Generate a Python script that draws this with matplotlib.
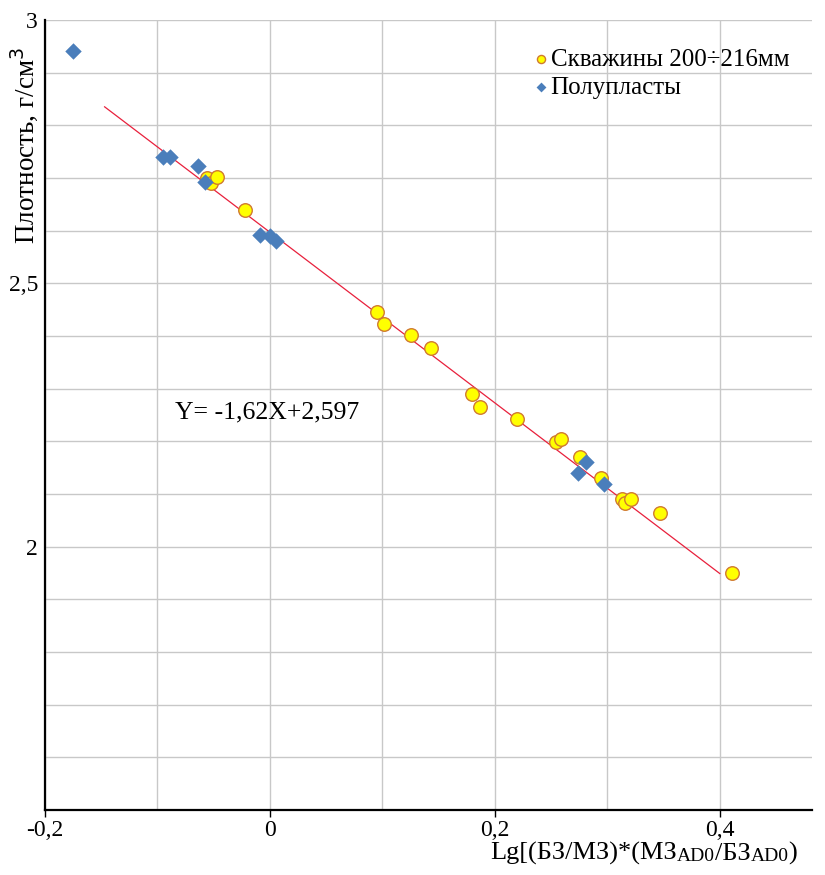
import numpy as np
import matplotlib.pyplot as plt

plt.rcParams['font.family'] = ['Liberation Serif', 'DejaVu Serif']

# скважины 200-216 мм
wells_x = [-0.056, -0.052, -0.047, -0.022, 0.095, 0.101, 0.125, 0.143, 0.180, 0.187,
           0.220, 0.254, 0.259, 0.276, 0.294, 0.313, 0.316, 0.321, 0.347, 0.411]
wells_y = [2.700, 2.691, 2.702, 2.639, 2.446, 2.423, 2.402, 2.377, 2.290, 2.265,
           2.242, 2.199, 2.204, 2.170, 2.130, 2.091, 2.083, 2.091, 2.064, 1.950]

# полупласты
layers_x = [-0.175, -0.095, -0.089, -0.064, -0.058, -0.009, 0.000, 0.005, 0.274, 0.281, 0.297]
layers_y = [2.941, 2.740, 2.740, 2.723, 2.692, 2.592, 2.590, 2.580, 2.140, 2.161, 2.119]

# линия регрессии Y = -1.62X + 2.597
k, b = -1.62, 2.597
fit_x = [-0.147, 0.400]

fig = plt.figure(figsize=(8.25, 8.75), dpi=100)
ax = fig.add_axes([45/825, 65/875, 767/825, 790/875])

ax.set_xlim(-0.2, 0.482)
ax.set_ylim(1.5, 3.0)
ax.set_xticks([-0.2, 0.0, 0.2, 0.4])
ax.set_xticks(np.arange(-0.1, 0.45, 0.2), minor=True)
ax.set_yticks([2.0, 2.5, 3.0])
ax.set_yticks(np.arange(1.6, 3.0, 0.1), minor=True)
ax.set_xticklabels(['-0,2', '0', '0,2', '0,4'], fontsize=17)
ax.set_yticklabels(['2', '2,5', '3'], fontsize=17)
ax.grid(True, which='both', color='#c8c8c8', linewidth=1.0)
ax.set_axisbelow(True)
ax.tick_params(which='both', length=0, pad=5)
ax.tick_params(axis='x', which='major', length=5, width=1, color='black', pad=2)

for s in ['top', 'right']:
    ax.spines[s].set_visible(False)
for s in ['left', 'bottom']:
    ax.spines[s].set_linewidth(1.6)

xx = np.array(fit_x)
ax.plot(xx, k * xx + b, color='#e8203c', linewidth=0.9, zorder=2)

ax.scatter(wells_x, wells_y, s=95, marker='o', facecolor='#ffff00',
           edgecolor='#d07a30', linewidth=1.0, zorder=3, label='Скважины 200÷216мм')
ax.scatter(layers_x, layers_y, s=70, marker='D', color='#4a7ebb',
           linewidth=0, zorder=4, label='Полупласты')

leg = ax.legend(loc='upper left', bbox_to_anchor=(0.62, 0.977), frameon=False,
                fontsize=18, handletextpad=0.0, labelspacing=0.22,
                borderaxespad=0, handlelength=0.8, markerscale=0.6)

ax.text(-0.084, 2.255, 'Y= -1,62X+2,597', fontsize=18.5, va='center', ha='left')

fig.text(8/825, (875 - 145) / 875, 'Плотность, г/см$^3$', rotation=90,
         fontsize=19.5, ha='left', va='center')

# подпись оси X: части "AD0" меньшим шрифтом
parts = [('Lg[(БЗ/МЗ)*(МЗ', 19), ('AD0', 14), ('/БЗ', 19), ('AD0', 14), (')', 19)]
prev = fig.text(490/825, 15/875, parts[0][0], fontsize=parts[0][1], ha='left', va='baseline')
for txt, fs in parts[1:]:
    prev = ax.annotate(txt, xy=(1, 0), xycoords=prev, fontsize=fs,
                       ha='left', va='bottom', annotation_clip=False)

fig.savefig('out.png', dpi=100)
